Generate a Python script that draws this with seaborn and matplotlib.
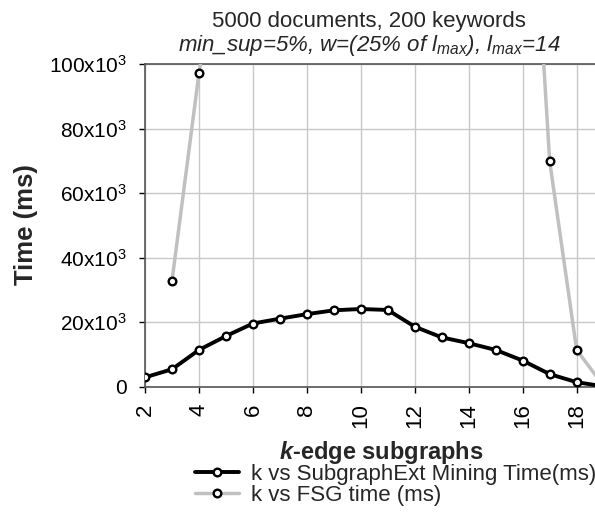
import numpy as np
import pandas as pd
import matplotlib
matplotlib.use('Agg')
import matplotlib.pyplot as plt
import seaborn as sns
from matplotlib.ticker import FuncFormatter

# k-edge subgraph sizes
k = [2, 3, 4, 5, 6, 7, 8, 9, 10, 11, 12, 13, 14, 15, 16, 17, 18, 19]
# SubgraphExt mining time (ms)
subgraphext_ms = [2900, 5400, 11400, 15700, 19600, 21100, 22500, 23700, 24100,
                  23800, 18600, 15300, 13500, 11400, 8100, 3900, 1400, 100]
# FSG time (ms), off the chart between 5 and 16
fsg_ms = [np.nan, 32800, 97200, 150000, np.nan, np.nan, np.nan, np.nan, np.nan,
          np.nan, np.nan, np.nan, np.nan, np.nan, 207000, 69900, 11400, 200]

sns.set_style('white')
plt.rcParams['font.family'] = ['Liberation Sans', 'DejaVu Sans']
plt.rcParams['mathtext.fontset'] = 'custom'
plt.rcParams['mathtext.rm'] = 'Liberation Sans'
plt.rcParams['mathtext.it'] = 'Liberation Sans:italic'
plt.rcParams['mathtext.bf'] = 'Liberation Sans:bold'
plt.rcParams['mathtext.bfit'] = 'Liberation Sans:italic:bold'

df = pd.DataFrame({'k': k, 'sub': subgraphext_ms, 'fsg': fsg_ms})

fig = plt.figure(figsize=(5.95, 5.25), dpi=100)
ax = fig.add_axes([145 / 595, 1 - 386.7 / 525, 1 - 145 / 595, (386.7 - 64.3) / 525])

marker_kw = dict(marker='o', markersize=5.5, markerfacecolor='white',
                 markeredgecolor='black', markeredgewidth=1.7)
sns.lineplot(data=df, x='k', y='fsg', ax=ax, color='#c0c0c0', linewidth=2.5,
             label='k vs FSG time (ms)', zorder=3, **marker_kw)
sns.lineplot(data=df, x='k', y='sub', ax=ax, color='black', linewidth=2.8,
             label='k vs SubgraphExt Mining Time(ms)', zorder=4, **marker_kw)

ax.set_xlim(2, 18.68)
ax.set_ylim(0, 100000)
ax.set_xticks(range(2, 19, 2))
ax.set_yticks(range(0, 100001, 20000))
ax.yaxis.set_major_formatter(FuncFormatter(
    lambda v, p: '0' if v == 0 else r'%dx10$^{3}$' % (v / 1000)))
ax.grid(True, color='#c8c8c8', linewidth=1)
ax.tick_params(axis='both', colors='black', direction='out',
               length=4, width=1, left=True, bottom=True)
ax.tick_params(axis='y', labelsize=15, pad=9)
ax.tick_params(axis='x', labelsize=16, labelrotation=90, pad=8)
for s in ['left', 'bottom', 'top']:
    ax.spines[s].set_color('#555555')
    ax.spines[s].set_linewidth(1.2)
ax.spines['right'].set_visible(False)
ax.set_xlabel('')
ax.set_ylabel('')

fig.text(26 / 595, 1 - 225 / 525, 'Time (ms)', rotation=90, fontsize=18.5,
         fontweight='bold', ha='center', va='center')
fig.text(381 / 595, 1 - 453 / 525, r'$\mathbfit{k}$-edge subgraphs', fontsize=17,
         fontweight='bold', ha='center', va='center')
fig.text(369 / 595, 1 - 22 / 525, '5000 documents, 200 keywords', fontsize=16,
         ha='center', va='center')
fig.text(369 / 595, 1 - 46 / 525,
         r'min_sup=5%, w=(25% of l$_{max}$), l$_{max}$=14', fontsize=16,
         style='italic', ha='center', va='center')

h, l = ax.get_legend_handles_labels()
ax.legend(h[::-1], l[::-1], loc='upper left', bbox_to_anchor=(195 / 595, 1 - 464 / 525),
          bbox_transform=fig.transFigure, frameon=False, fontsize=16,
          handlelength=2.0, handletextpad=0.5, labelspacing=0.0,
          borderaxespad=0, borderpad=0)

fig.savefig('out.png', dpi=100)
